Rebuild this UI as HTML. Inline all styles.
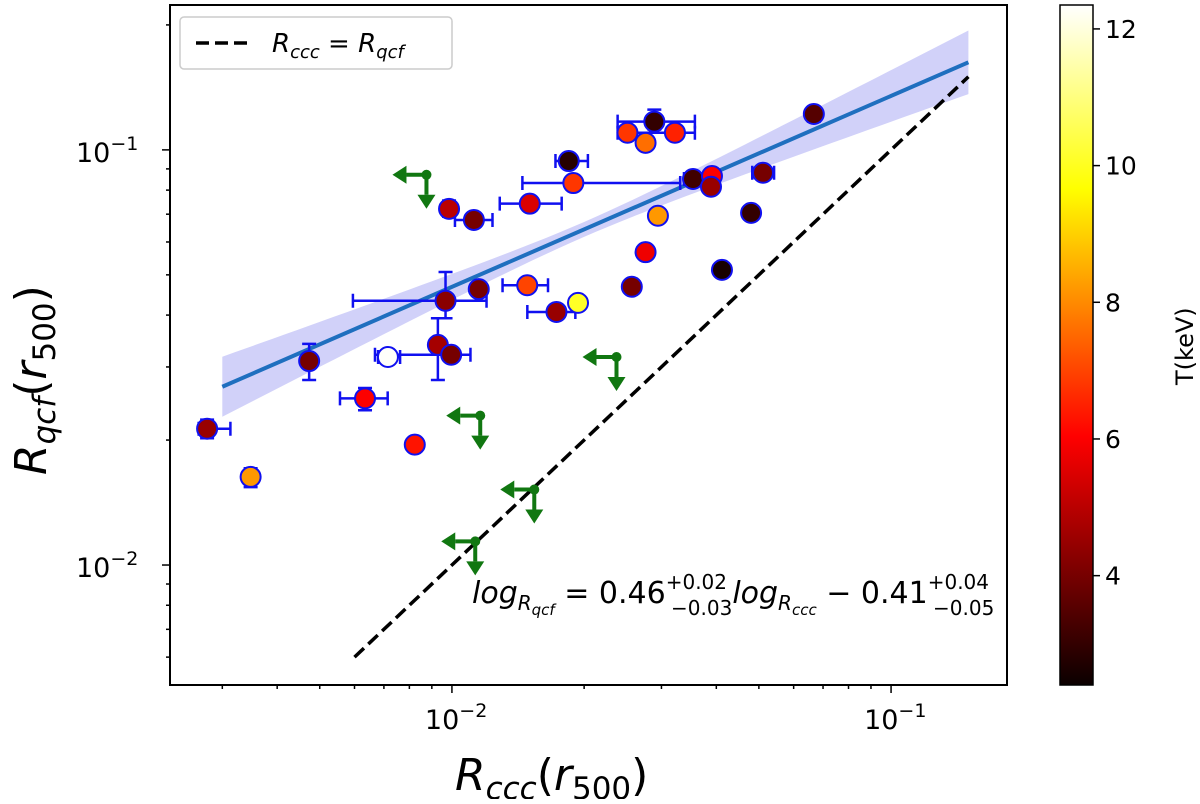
<!DOCTYPE html>
<html><head><meta charset="utf-8"><style>
body{margin:0;background:#fff;}
svg text{font-family:"DejaVu Sans","Liberation Sans",sans-serif;}
</style></head><body>
<svg id="c" width="1200" height="799" viewBox="0 0 1200 799" xmlns="http://www.w3.org/2000/svg">
<defs>
<linearGradient id="hot" x1="0" y1="1" x2="0" y2="0">
<stop offset="0" stop-color="#0b0000"/><stop offset="0.365" stop-color="#ff0000"/><stop offset="0.73" stop-color="#ffff00"/><stop offset="1" stop-color="#ffffff"/>
</linearGradient>
<clipPath id="clip"><rect x="170" y="5" width="837" height="680"/></clipPath>
</defs>
<g id="plot"></g>
</svg>
<script>
const xs=[0.00277,0.00348,0.00473,0.00634,0.00715,0.00823,0.00929,0.00967,0.00996,0.00985,0.01122,0.01151,0.01484,0.01504,0.0173,0.01845,0.0189,0.01937,0.0251,0.02568,0.0276,0.0276,0.0289,0.02945,0.0322,0.0354,0.0391,0.0389,0.0412,0.048,0.0511,0.0667];
const ys=[0.0213,0.0163,0.0310,0.0252,0.0317,0.0195,0.0339,0.0433,0.0321,0.0721,0.0678,0.0462,0.0472,0.0742,0.0407,0.0940,0.0832,0.0428,0.110,0.0468,0.0567,0.104,0.117,0.0694,0.110,0.0851,0.0865,0.0815,0.0514,0.0705,0.0881,0.122];
const temps=[4.5,8.2,4,6,12.3,6.3,4.7,4.3,4,5,4,4,7,5.5,4.5,2.8,6.8,10.2,6.8,4,5.8,7.6,3,8.2,6.5,3.2,6,4.5,2.6,3,4,3.5];
const xLo=[0.00265,null,null,0.00556,0.00679,null,null,0.00595,0.00668,null,0.01016,null,0.01304,0.01285,0.01485,0.01721,0.01447,null,0.02384,null,null,null,0.02384,null,0.02827,0.03376,null,null,null,null,0.04829,null];
const xHi=[0.00313,null,null,0.00714,0.00762,null,null,0.01199,0.01102,null,0.01237,null,0.01655,0.01778,0.0191,0.0204,0.0331,null,0.02827,null,null,null,0.03575,null,0.03575,0.03926,null,null,null,null,0.05415,null];
const yLo=[0.0202,0.0154,0.0279,0.0236,null,null,0.0279,0.0393,null,0.0690,null,null,null,null,null,null,null,null,null,null,null,0.100,0.112,null,null,null,null,null,null,null,null,0.117];
const yHi=[0.0224,0.0171,0.0341,0.0267,null,null,0.0393,0.0508,null,0.0755,null,null,null,null,null,null,null,null,null,null,null,0.108,0.125,null,null,null,null,null,null,null,null,0.127];
const ulX=[0.00875,0.0116,0.0154,0.0113,0.0237];
const ulY=[0.0871,0.0229,0.0152,0.0114,0.0317];
const fitSlope=0.46, fitIntercept=-0.41;
const xTicks=[0.01,0.1], xTickLabels=["-2","-1"];
const yTicks=[0.01,0.1], yTickLabels=["-2","-1"];
const cbTicks=[4,6,8,10,12];
const Tmin=2.4,Tmax=12.35;

const L=170,R=1007,T=5,B=685;
const lx0=-2.642,lx1=-0.736,ly0=-2.289,ly1=-0.651;
const X=v=>L+(Math.log10(v)-lx0)/(lx1-lx0)*(R-L);
const Y=v=>B-(Math.log10(v)-ly0)/(ly1-ly0)*(B-T);
const NS="http://www.w3.org/2000/svg";
const g=document.getElementById('plot');
function mk(tag,at,parent){const e=document.createElementNS(NS,tag);for(const k in at)e.setAttribute(k,at[k]);(parent||g).appendChild(e);return e;}
function hot(t){let f=(t-Tmin)/(Tmax-Tmin);f=Math.max(0,Math.min(1,f));
 const r=Math.min(1,0.0416+f/0.365*0.9584),gg=Math.max(0,Math.min(1,(f-0.365)/0.365)),b=Math.max(0,Math.min(1,(f-0.746)/0.254));
 return `rgb(${Math.round(r*255)},${Math.round(gg*255)},${Math.round(b*255)})`;}

const pg=mk('g',{'clip-path':'url(#clip)'});

let up=[],lo=[];
for(let i=0;i<=60;i++){const lx=Math.log10(0.003)+(Math.log10(0.15)-Math.log10(0.003))*i/60;const d=lx+1.7;const w=Math.sqrt(0.018*0.018+(0.085*d)*(0.085*d));const ly=fitSlope*lx+fitIntercept;up.push([X(10**lx),Y(10**(ly+w))]);lo.unshift([X(10**lx),Y(10**(ly-w))]);}
const band=mk('polygon',{points:up.concat(lo).map(p=>p.join(',')).join(' '),fill:'#b3b3f5',opacity:'0.6'},pg);

const dl=mk('line',{x1:X(0.006),y1:Y(0.006),x2:X(0.15),y2:Y(0.15),stroke:'#000','stroke-width':3.5,'stroke-dasharray':'13,6'},pg);

const fl=mk('line',{x1:X(0.003),y1:Y(10**(fitSlope*Math.log10(0.003)+fitIntercept)),x2:X(0.15),y2:Y(10**(fitSlope*Math.log10(0.15)+fitIntercept)),stroke:'#1f6fbf','stroke-width':4},pg);

const blue='#1010f0';
for(let i=0;i<xs.length;i++){
 const px=X(xs[i]),py=Y(ys[i]);
 if(xLo[i]!==null){const e=mk('path',{d:`M${X(xLo[i])},${py}H${X(xHi[i])}M${X(xLo[i])},${py-7}v14M${X(xHi[i])},${py-7}v14`,stroke:blue,'stroke-width':2.5,fill:'none'},pg);
  }
 if(yLo[i]!==null){const e=mk('path',{d:`M${px},${Y(yLo[i])}V${Y(yHi[i])}M${px-7},${Y(yLo[i])}h14M${px-7},${Y(yHi[i])}h14`,stroke:blue,'stroke-width':2.5,fill:'none'},pg);
  }
}
for(let i=0;i<xs.length;i++){
 const c=mk('circle',{cx:X(xs[i]),cy:Y(ys[i]),r:10,fill:hot(temps[i]),stroke:blue,'stroke-width':2},pg);
 
}
const gr='#117711';
for(let i=0;i<ulX.length;i++){
 const px=X(ulX[i]),py=Y(ulY[i]);
 const u=mk('g',{},pg);
 
 mk('path',{d:`M${px},${py}H${px-20}M${px},${py}V${py+20}`,stroke:gr,'stroke-width':4,fill:'none'},u);
 mk('polygon',{points:`${px-34},${py} ${px-20},${py-9} ${px-20},${py+9}`,fill:gr},u);
 mk('polygon',{points:`${px},${py+34} ${px-9},${py+20} ${px+9},${py+20}`,fill:gr},u);
 mk('circle',{cx:px,cy:py,r:5,fill:gr},u);
}
const fr=mk('rect',{x:L,y:T,width:R-L,height:B-T,fill:'none',stroke:'#000','stroke-width':2});

for(let d=-3;d<=0;d++)for(let m=1;m<10;m++){const v=m*10**d;
 const lv=Math.log10(v);
 if(lv>=lx0&&lv<=lx1){const px=X(v);const len=m==1?8:4;mk('line',{x1:px,y1:B,x2:px,y2:B+len,stroke:'#000','stroke-width':1.5});}
 if(lv>=ly0&&lv<=ly1){const py=Y(v);const len=m==1?8:4;mk('line',{x1:L,y1:py,x2:L-len,y2:py,stroke:'#000','stroke-width':1.5});}
}
xTicks.forEach((v,i)=>{const t=mk('text',{x:X(v)-27,y:B+44,'font-size':27});t.innerHTML=`10<tspan dy="-12" font-size="19">−${xTickLabels[i].slice(1)}</tspan>`;
 });
yTicks.forEach((v,i)=>{const t=mk('text',{x:L-94,y:Y(v)+12,'font-size':27});t.innerHTML=`10<tspan dy="-12" font-size="19">−${yTickLabels[i].slice(1)}</tspan>`;
 });
const xt=mk('text',{x:455,y:790,'font-size':44});xt.innerHTML='<tspan font-style="italic">R</tspan><tspan font-style="italic" font-size="31" dy="9">ccc</tspan><tspan dy="-9">(</tspan><tspan font-style="italic">r</tspan><tspan font-size="31" dy="9">500</tspan><tspan dy="-9">)</tspan>';

const yt=mk('text',{x:0,y:0,'font-size':44,transform:'translate(46,475) rotate(-90)'});yt.innerHTML='<tspan font-style="italic">R</tspan><tspan font-style="italic" font-size="31" dy="9">qcf</tspan><tspan dy="-9">(</tspan><tspan font-style="italic">r</tspan><tspan font-size="31" dy="9">500</tspan><tspan dy="-9">)</tspan>';

const an=mk('text',{x:472,y:603,'font-size':30});an.innerHTML='<tspan font-style="italic">log</tspan><tspan font-style="italic" font-size="20" dy="7">R</tspan><tspan font-style="italic" font-size="15" dy="5">qcf</tspan><tspan dy="-12"> = 0.46</tspan><tspan font-size="20" dy="-14">+0.02</tspan><tspan font-size="20" dx="-56" dy="26">−0.03</tspan><tspan font-style="italic" dy="-12">log</tspan><tspan font-style="italic" font-size="20" dy="7">R</tspan><tspan font-style="italic" font-size="15" dy="5">ccc</tspan><tspan dy="-12"> − 0.41</tspan><tspan font-size="20" dy="-14">+0.04</tspan><tspan font-size="20" dx="-56" dy="26">−0.05</tspan>';

const lg=mk('g',{});
mk('rect',{x:180,y:17,width:272,height:52,rx:4,fill:'#fff',stroke:'#ccc','stroke-width':1.5},lg);
mk('line',{x1:196,y1:43,x2:252,y2:43,stroke:'#000','stroke-width':3.5,'stroke-dasharray':'13,6'},lg);
const lt=mk('text',{x:272,y:52,'font-size':26},lg);lt.innerHTML='<tspan font-style="italic">R</tspan><tspan font-style="italic" font-size="18" dy="6">ccc</tspan><tspan dy="-6"> = </tspan><tspan font-style="italic">R</tspan><tspan font-style="italic" font-size="18" dy="6">qcf</tspan>';
const cb=mk('rect',{x:1060,y:T,width:33,height:B-T,fill:'url(#hot)',stroke:'#000','stroke-width':1.5});

const CY=v=>B-(v-Tmin)/(Tmax-Tmin)*(B-T);
cbTicks.forEach(v=>{mk('line',{x1:1093,y1:CY(v),x2:1100,y2:CY(v),stroke:'#000','stroke-width':1.5});
 const t=mk('text',{x:1105,y:CY(v)+9,'font-size':25});t.textContent=v;});
const ct=mk('text',{x:0,y:0,'font-size':24,transform:'translate(1193,385) rotate(-90)'});ct.textContent='T(keV)';

</script>
</body></html>
